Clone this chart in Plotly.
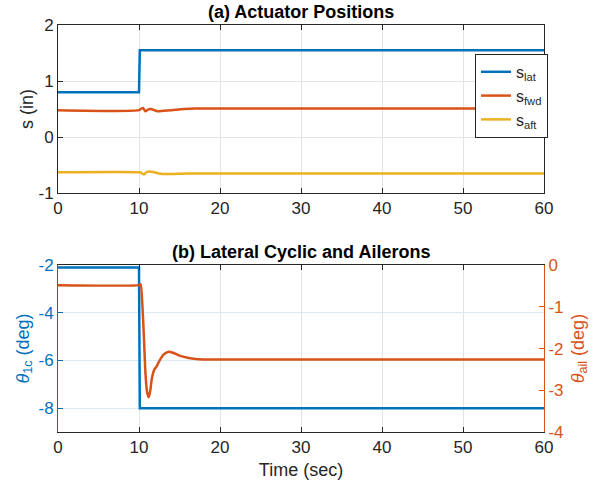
import plotly.graph_objects as go

# ---- data ----
t_lat = [0, 10.0, 10.1, 60]
s_lat = [0.80, 0.80, 1.55, 1.55]

t_fwd = [0, 10.0, 10.3, 10.5, 10.8, 11.1, 11.5, 11.9, 12.3, 13.0, 14.0, 15.5, 17.0, 18.5, 60]
s_fwd = [0.48, 0.48, 0.51, 0.52, 0.46, 0.49, 0.50, 0.48, 0.46, 0.47, 0.48, 0.50, 0.51, 0.51, 0.51]

t_aft = [0, 10.0, 10.3, 10.6, 11.0, 11.6, 12.2, 13.0, 14.0, 16.0, 20.0, 60]
s_aft = [-0.63, -0.63, -0.64, -0.67, -0.62, -0.62, -0.64, -0.66, -0.66, -0.65, -0.65, -0.65]

t_1c = [0, 10.0, 10.1, 60]
theta_1c = [-2.1, -2.1, -8.0, -8.0]

t_ail = [0, 10.0, 10.2, 10.4, 10.6, 10.8, 11.0, 11.2, 11.4, 11.6, 11.9, 12.2, 12.5,
         13.0, 13.6, 14.2, 15.0, 16.0, 17.0, 18.0, 60]
theta_ail = [-0.48, -0.48, -0.46, -0.9, -1.7, -2.6, -3.05, -3.17, -3.0, -2.7, -2.5, -2.42,
             -2.3, -2.15, -2.08, -2.1, -2.17, -2.22, -2.25, -2.26, -2.26]

x_ticks = [0, 10, 20, 30, 40, 50, 60]
s_ticks = [-1, 0, 1, 2]
s_ticklabels = ["-1", "0", "1", "2"]
c_ticks = [-8, -6, -4, -2]
c_ticklabels = ["-8", "-6", "-4", "-2"]
a_ticks = [-4, -3, -2, -1, 0]
a_ticklabels = ["-4", "-3", "-2", "-1", "0"]

BLUE = "#0072BD"
ORANGE = "#D95319"
YELLOW = "#EDB120"
AX = "#262626"
FONT = "Liberation Sans"

fig = go.Figure()
fig.add_trace(go.Scatter(x=t_lat, y=s_lat, mode="lines", line=dict(color=BLUE, width=2.5),
                         name="s<sub>lat</sub>", xaxis="x", yaxis="y"))
fig.add_trace(go.Scatter(x=t_fwd, y=s_fwd, mode="lines", line=dict(color=ORANGE, width=2.5, shape="spline", smoothing=0.6),
                         name="s<sub>fwd</sub>", xaxis="x", yaxis="y"))
fig.add_trace(go.Scatter(x=t_aft, y=s_aft, mode="lines", line=dict(color=YELLOW, width=2.5, shape="spline", smoothing=0.6),
                         name="s<sub>aft</sub>", xaxis="x", yaxis="y"))
fig.add_trace(go.Scatter(x=t_1c, y=theta_1c, mode="lines", line=dict(color=BLUE, width=2.5),
                         showlegend=False, xaxis="x2", yaxis="y2"))
fig.add_trace(go.Scatter(x=t_ail, y=theta_ail, mode="lines", line=dict(color=ORANGE, width=2.5, shape="spline", smoothing=0.6),
                         showlegend=False, xaxis="x2", yaxis="y3"))

tickfont = dict(family=FONT, size=17, color=AX)
common_x = dict(range=[0, 60], tickvals=x_ticks, showgrid=True, gridcolor="#e3e3e3",
                showline=True, linecolor=AX, linewidth=1, mirror="ticks", ticks="inside",
                ticklen=5, tickcolor=AX, tickfont=tickfont, zeroline=False, automargin=False)

fig.update_layout(
    width=608, height=487,
    margin=dict(l=58, r=64, t=25, b=55, autoexpand=False),
    paper_bgcolor="white", plot_bgcolor="white",
    font=dict(family=FONT, color=AX),
    xaxis=dict(domain=[0, 1], anchor="y", **common_x),
    yaxis=dict(domain=[0.587, 1.0], anchor="x", range=[-1, 2], tickvals=s_ticks, ticktext=s_ticklabels,
               showgrid=True, gridcolor="#e3e3e3", showline=True, linecolor=AX, mirror="ticks",
               ticks="inside", ticklen=5, tickcolor=AX, tickfont=tickfont, zeroline=False,
               automargin=False,
               title=dict(text="s (in)", font=dict(family=FONT, size=18, color=AX), standoff=0)),
    xaxis2=dict(domain=[0, 1], anchor="y2",
                title=dict(text="Time (sec)", font=dict(family=FONT, size=18, color=AX), standoff=6),
                **common_x),
    yaxis2=dict(domain=[0, 0.41], anchor="x2", range=[-9, -2], tickvals=c_ticks, ticktext=c_ticklabels,
                showgrid=True, gridcolor="#dbe9f6", showline=True, linecolor=BLUE, linewidth=1,
                ticks="inside", ticklen=5, tickcolor=BLUE, zeroline=False, automargin=False,
                tickfont=dict(family=FONT, size=17, color=BLUE),
                title=dict(text="<i>θ</i><sub>1c</sub> (deg)", font=dict(family=FONT, size=18, color=BLUE), standoff=4)),
    yaxis3=dict(overlaying="y2", anchor="x2", side="right", range=[-4, 0],
                tickvals=a_ticks, ticktext=a_ticklabels, showgrid=False, showline=True, linecolor=ORANGE,
                linewidth=1, ticks="inside", ticklen=5, tickcolor=ORANGE, zeroline=False,
                automargin=False,
                tickfont=dict(family=FONT, size=17, color=ORANGE),
                title=dict(text="<i>θ</i><sub>ail</sub> (deg)", font=dict(family=FONT, size=18, color=ORANGE), standoff=8)),
    legend=dict(x=0.858, y=0.929, xanchor="left", yanchor="top", bgcolor="white",
                bordercolor=AX, borderwidth=1, font=dict(family=FONT, size=16, color=AX),
                itemwidth=30, tracegroupgap=2),
    annotations=[
        dict(text="<b>(a) Actuator Positions</b>", x=0.5, y=1.0, xref="paper", yref="paper",
             xanchor="center", yanchor="bottom", yshift=1, showarrow=False,
             font=dict(family=FONT, size=18, color="black")),
        dict(text="<b>(b) Lateral Cyclic and Ailerons</b>", x=0.5, y=0.41, xref="paper", yref="paper",
             xanchor="center", yanchor="bottom", yshift=1, showarrow=False,
             font=dict(family=FONT, size=18, color="black")),
    ],
)

fig.write_html("out.html", config={"displayModeBar": False},
               post_script="document.body.style.margin='0';")
